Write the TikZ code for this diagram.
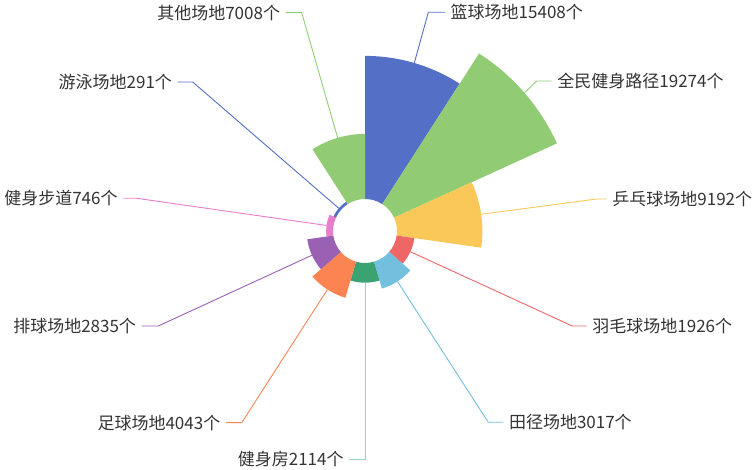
\documentclass[tikz,border=0pt]{standalone}
\usepackage{fontspec}
\setmainfont{Noto Sans CJK SC}
\definecolor{c1}{HTML}{5470C6}
\definecolor{c2}{HTML}{91CC75}
\definecolor{c3}{HTML}{FAC858}
\definecolor{c4}{HTML}{EE6666}
\definecolor{c5}{HTML}{73C0DE}
\definecolor{c6}{HTML}{3BA272}
\definecolor{c7}{HTML}{FC8452}
\definecolor{c8}{HTML}{9A60B4}
\definecolor{c9}{HTML}{EA7CCC}
\definecolor{txt}{HTML}{333333}
\begin{document}
\begin{tikzpicture}[x=1pt,y=1pt,
  lbl/.style={font=\fontsize{17}{20}\selectfont, text=txt, inner xsep=5.5pt, inner ysep=0pt},
  lead/.style={line width=0.9pt}]
\useasboundingbox (0,0) rectangle (756,-470);
\coordinate (O) at (365,-231);
% values given divided by 10
\foreach \i/\v/\c in {0/1540.8/c1,1/1927.4/c2,2/919.2/c3,3/192.6/c4,4/301.7/c5,5/211.4/c6,6/404.3/c7,7/283.5/c8,8/74.6/c9,9/29.1/c1,10/700.8/c2} {
  \pgfmathsetmacro\aA{90-\i*360/11}
  \pgfmathsetmacro\aB{\aA-360/11}
  \pgfmathsetmacro\rr{32+\v/1927.4*179}
  \pgfmathsetmacro\am{\aA-180/11}
  \fill[\c] ([shift={(\aA:32)}]O) arc[start angle=\aA,end angle=\aB,radius=32]
     -- ([shift={(\aB:\rr)}]O) arc[start angle=\aB,end angle=\aA,radius=\rr] -- cycle;
  \coordinate (s\i) at ([shift={(\am:\rr)}]O);
}
% right-side labels
\node[lbl,anchor=west] (l0) at (445,-12.3) {篮球场地15408个};
\node[lbl,anchor=west] (l1) at (551.7,-81) {全民健身路径19274个};
\node[lbl,anchor=west] (l2) at (606.7,-199) {乒乓球场地9192个};
\node[lbl,anchor=west] (l3) at (586.7,-326) {羽毛球场地1926个};
\node[lbl,anchor=west] (l4) at (503.3,-422.3) {田径场地3017个};
% left-side labels
\node[lbl,anchor=east] (l5) at (349.3,-459.3) {健身房2114个};
\node[lbl,anchor=east] (l6) at (226,-422.7) {足球场地4043个};
\node[lbl,anchor=east] (l7) at (141.7,-326) {排球场地2835个};
\node[lbl,anchor=east] (l8) at (123.3,-198.3) {健身步道746个};
\node[lbl,anchor=east] (l9) at (177.7,-82) {游泳场地291个};
\node[lbl,anchor=east] (l10) at (285.7,-12.7) {其他场地7008个};
% elbows
\coordinate (e0) at (428.3,-12.3);
\coordinate (e1) at (536.7,-81);
\coordinate (e2) at (596.7,-199);
\coordinate (e3) at (572.3,-326);
\coordinate (e4) at (488.3,-422.3);
\coordinate (e5) at (365,-459.3);
\coordinate (e6) at (241.7,-422.7);
\coordinate (e7) at (158.3,-326);
\coordinate (e8) at (136.7,-198.3);
\coordinate (e9) at (192.7,-82);
\coordinate (e10) at (301.7,-12.7);
% leader lines
\draw[lead,c1] (s0) -- (e0) -- (l0.west);
\draw[lead,c2] (s1) -- (e1) -- (l1.west);
\draw[lead,c3] (s2) -- (e2) -- (l2.west);
\draw[lead,c4] (s3) -- (e3) -- (l3.west);
\draw[lead,c5] (s4) -- (e4) -- (l4.west);
\draw[lead,c6!50] (s5) -- (e5) -- (l5.east);
\draw[lead,c7] (s6) -- (e6) -- (l6.east);
\draw[lead,c8] (s7) -- (e7) -- (l7.east);
\draw[lead,c9] (s8) -- (e8) -- (l8.east);
\draw[lead,c1] (s9) -- (e9) -- (l9.east);
\draw[lead,c2] (s10) -- (e10) -- (l10.east);
\end{tikzpicture}
\end{document}
